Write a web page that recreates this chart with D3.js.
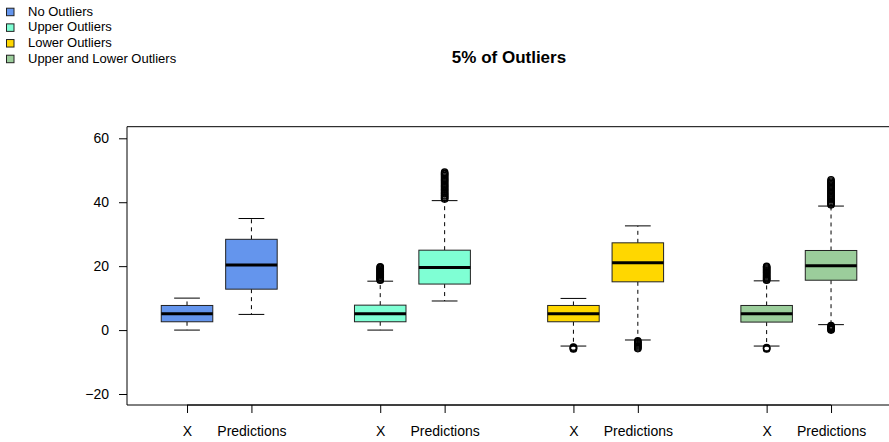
<!DOCTYPE html>
<html>
<head>
<meta charset="utf-8">
<script src="https://cdn.jsdelivr.net/npm/d3@7"></script>
<style>
  html, body { margin: 0; padding: 0; background: #fff; }
  svg { display: block; font-family: "Liberation Sans", Arial, Helvetica, sans-serif; }
</style>
</head>
<body>
<svg id="chart" width="889" height="442"></svg>
<script>
// Groups of simulated data, each drawn as a pair of boxes (X, Predictions)
const groups = ["No Outliers", "Upper Outliers", "Lower Outliers", "Upper and Lower Outliers"];
const groupColors = ["#6495ED", "#7FFFD4", "#FFD700", "#9BCD9B"];
const categories = ["X", "Predictions"];
const boxGroup = [0, 0, 1, 1, 2, 2, 3, 3];
const boxLabels = ["X", "Predictions", "X", "Predictions", "X", "Predictions", "X", "Predictions"];
const positions = [1, 2, 4, 5, 7, 8, 10, 11];

// Five-number summaries per box
const lowerWhisker = [0.0, 4.9, 0.0, 9.1, -5.0, -3.1, -5.0, 1.7];
const q1 = [2.6, 12.8, 2.6, 14.4, 2.6, 15.1, 2.5, 15.6];
const median = [5.1, 20.4, 5.1, 19.6, 5.1, 21.1, 5.1, 20.1];
const q3 = [7.7, 28.4, 7.8, 25.0, 7.7, 27.3, 7.7, 24.9];
const upperWhisker = [10.0, 34.9, 15.3, 40.5, 9.9, 32.6, 15.4, 38.8];

// Points beyond the whiskers
const outliers = [
  [],
  [],
  [15.6, 15.8, 16.0, 16.3, 16.5, 16.7, 17.0, 17.2, 17.5, 17.7, 18.0, 18.3, 18.5, 18.8, 19.0, 19.3, 19.6, 19.8],
  [41.0, 41.3, 41.6, 42.0, 42.3, 42.7, 43.0, 43.4, 43.8, 44.1, 44.5, 44.9, 45.2, 45.6, 46.0, 46.4, 46.8, 47.1, 47.5, 47.9, 48.3, 48.7, 49.0, 49.4],
  [-5.3, -5.5, -5.7, -5.9],
  [-3.4, -3.7, -4.0, -4.3, -4.6, -4.9, -5.2, -5.5, -5.8],
  [15.6, 15.8, 16.1, 16.4, 16.7, 17.0, 17.3, 17.6, 17.9, 18.2, 18.5, 18.8, 19.1, 19.4, 19.7, 19.9, -5.5, -5.7, -5.9],
  [39.2, 39.5, 39.9, 40.3, 40.7, 41.0, 41.4, 41.8, 42.2, 42.6, 43.0, 43.4, 43.8, 44.2, 44.6, 45.0, 45.4, 45.8, 46.2, 46.6, 47.0, 1.4, 1.1, 0.8, 0.5, 0.2, 0.0]
];

const yTicks = [-20, 0, 20, 40, 60];
const title = "5% of Outliers";

const svg = d3.select("#chart");
const plot = { left: 127, top: 126.7, right: 889, bottom: 405 };

const x = d3.scaleLinear().domain([0.068, 11.9]).range([plot.left, plot.right]);
const y = d3.scaleLinear().domain([-23.44, 63.63]).range([plot.bottom, plot.top]);
const boxW = x(1.8) - x(1);   // box width: 0.8 position units
const capW = boxW / 2;

// Plot frame (left, top, bottom)
svg.append("path")
  .attr("d", `M${plot.right},${plot.top}H${plot.left}V${plot.bottom}H${plot.right}`)
  .attr("fill", "none").attr("stroke", "#000").attr("stroke-width", 1);

// Boxes
const boxes = svg.append("g").selectAll("g").data(positions).join("g");
boxes.each(function (p, i) {
  const g = d3.select(this);
  const cx = x(p);
  // whiskers
  g.append("line").attr("x1", cx).attr("x2", cx).attr("y1", y(q3[i])).attr("y2", y(upperWhisker[i]))
    .attr("stroke", "#000").attr("stroke-dasharray", "4,4");
  g.append("line").attr("x1", cx).attr("x2", cx).attr("y1", y(q1[i])).attr("y2", y(lowerWhisker[i]))
    .attr("stroke", "#000").attr("stroke-dasharray", "4,4");
  // caps
  [upperWhisker[i], lowerWhisker[i]].forEach(v => {
    g.append("line").attr("x1", cx - capW / 2).attr("x2", cx + capW / 2).attr("y1", y(v)).attr("y2", y(v))
      .attr("stroke", "#000");
  });
  // box
  g.append("rect").attr("x", cx - boxW / 2).attr("width", boxW)
    .attr("y", y(q3[i])).attr("height", y(q1[i]) - y(q3[i]))
    .attr("fill", groupColors[boxGroup[i]]).attr("stroke", "#222").attr("stroke-width", 1);
  // median
  g.append("line").attr("x1", cx - boxW / 2).attr("x2", cx + boxW / 2).attr("y1", y(median[i])).attr("y2", y(median[i]))
    .attr("stroke", "#000").attr("stroke-width", 3);
  // outliers
  g.selectAll("circle").data(outliers[i]).join("circle")
    .attr("cx", cx).attr("cy", d => y(d)).attr("r", 3.2)
    .attr("fill", "none").attr("stroke", "#000").attr("stroke-width", 1.3);
});

// Y axis
const yAxis = svg.append("g").attr("transform", `translate(${plot.left},0)`)
  .call(d3.axisLeft(y).tickValues(yTicks).tickSize(8).tickPadding(10).tickFormat(d3.format("d")));
yAxis.select(".domain").remove();
yAxis.selectAll("text").attr("font-size", 14).attr("font-family", "Liberation Sans, Arial, sans-serif").attr("fill", "#000");
yAxis.selectAll("line").attr("stroke", "#000");

// X axis: line spans first to last tick
const xAxis = svg.append("g").attr("transform", `translate(0,${plot.bottom})`)
  .call(d3.axisBottom(x).tickValues(positions).tickSize(8).tickPadding(13).tickFormat((d, i) => boxLabels[i]));
xAxis.select(".domain").remove();
xAxis.append("line").attr("x1", x(positions[0])).attr("x2", x(positions[positions.length - 1]))
  .attr("y1", 0).attr("y2", 0).attr("stroke", "#000");
xAxis.selectAll("text").attr("font-size", 14).attr("font-family", "Liberation Sans, Arial, sans-serif").attr("fill", "#000");
xAxis.selectAll("line").attr("stroke", "#000");

// Title
svg.append("text").attr("x", 509).attr("y", 63).attr("text-anchor", "middle")
  .attr("font-size", 17).attr("font-weight", "bold").text(title);

// Legend
const legend = svg.append("g").selectAll("g").data(groups).join("g")
  .attr("transform", (d, i) => `translate(0,${15.7 + i * 15.67})`);
legend.append("rect").attr("x", 6.5).attr("y", -7.5).attr("width", 7.5).attr("height", 7.5)
  .attr("fill", (d, i) => groupColors[i]).attr("stroke", "#222").attr("stroke-width", 1);
legend.append("text").attr("x", 28).attr("y", 0).attr("font-size", 13).text(d => d);
</script>
</body>
</html>
